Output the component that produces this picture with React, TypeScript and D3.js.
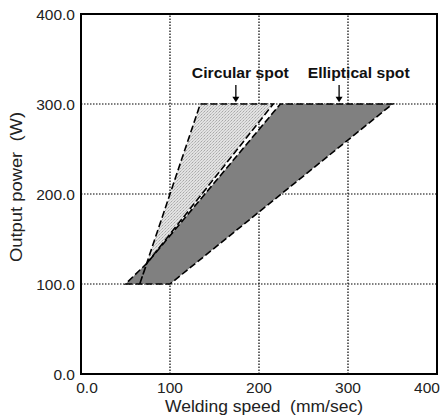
import React from "react";
import * as d3 from "d3";

const xTicks = [0, 100, 200, 300, 400];
const yTicks = [0, 100, 200, 300, 400];
const xTickLabels = ["0.0", "100", "200", "300", "400"];
const yTickLabels = ["0.0", "100.0", "200.0", "300.0", "400.0"];

// Elliptical spot region (welding speed, output power)
const ellipticalSpeed = [50, 100, 350, 224, 74];
const ellipticalPower = [100, 100, 300, 300, 123];
// Circular spot region
const circularSpeed = [66, 134, 216, 74];
const circularPower = [100, 300, 300, 123];

const annotations = [
  { label: "Circular spot", textX: 179, arrowX: 174, len: 97 },
  { label: "Elliptical spot", textX: 312, arrowX: 290, len: 102 },
];

const W = 441;
const H = 419;

export default function App() {
  const x = d3.scaleLinear().domain([0, 400]).range([81, 437]);
  const y = d3.scaleLinear().domain([0, 400]).range([374, 14]);
  const line = d3
    .line<[number, number]>()
    .x((d) => x(d[0]))
    .y((d) => y(d[1]))
    .curve(d3.curveLinearClosed);
  const ell = ellipticalSpeed.map((s, i) => [s, ellipticalPower[i]] as [number, number]);
  const cir = circularSpeed.map((s, i) => [s, circularPower[i]] as [number, number]);
  const font = "'Liberation Sans', Arial, sans-serif";

  return (
    <svg
      width={W}
      height={H}
      style={{ position: "absolute", left: 0, top: 0, background: "#fff" }}
      fontFamily={font}
    >
      <defs>
        <pattern id="stip" width="3" height="3" patternUnits="userSpaceOnUse">
          <rect width="3" height="3" fill="#e2e2e2" />
          <rect x="0" y="0" width="1" height="1" fill="#a8a8a8" />
          <rect x="2" y="1" width="1" height="1" fill="#bcbcbc" />
          <rect x="1" y="2" width="1" height="1" fill="#c4c4c4" />
        </pattern>
      </defs>
      <rect x={0} y={0} width={W} height={H} fill="#fff" />
      {/* grid */}
      {xTicks.slice(1, -1).map((t) => (
        <line
          key={"gx" + t}
          x1={x(t)}
          x2={x(t)}
          y1={y(0)}
          y2={y(400)}
          stroke="#000"
          strokeWidth={1.2}
          strokeDasharray="1.5,1.5"
        />
      ))}
      {yTicks.slice(1, -1).map((t) => (
        <line
          key={"gy" + t}
          x1={x(0)}
          x2={x(400)}
          y1={y(t)}
          y2={y(t)}
          stroke="#000"
          strokeWidth={1.2}
          strokeDasharray="1.5,1.5"
        />
      ))}
      {/* regions */}
      <path d={line(ell) || ""} fill="#808080" stroke="none" />
      <path d={line(cir) || ""} fill="url(#stip)" stroke="none" />
      <path d={line(ell) || ""} fill="none" stroke="#000" strokeWidth={1.6} strokeDasharray="7,3" />
      <path d={line(cir) || ""} fill="none" stroke="#000" strokeWidth={1.6} strokeDasharray="7,3" />
      {/* frame */}
      <rect
        x={x(0)}
        y={y(400)}
        width={x(400) - x(0)}
        height={y(0) - y(400)}
        fill="none"
        stroke="#000"
        strokeWidth={2}
      />
      {/* y tick labels */}
      {yTicks.map((t, i) => (
        <text key={"yl" + t} x={75} y={y(t) + 5.5} textAnchor="end" fontSize={15.5} fill="#222">
          {yTickLabels[i]}
        </text>
      ))}
      {/* x tick labels */}
      {xTicks.map((t, i) => {
        let px = x(t);
        if (i === 0) px += 6;
        if (i === xTicks.length - 1) px -= 10;
        return (
          <text key={"xl" + t} x={px} y={393} textAnchor="middle" fontSize={15.5} fill="#222">
            {xTickLabels[i]}
          </text>
        );
      })}
      <text
        x={264}
        y={412}
        textAnchor="middle"
        fontSize={16}
        fill="#222"
        textLength={198}
        lengthAdjust="spacingAndGlyphs"
        style={{ whiteSpace: "pre" }}
      >
        {"Welding speed  (mm/sec)"}
      </text>
      <text
        transform={`translate(22,187) rotate(-90)`}
        textAnchor="middle"
        fontSize={16}
        fill="#222"
        textLength={150}
        lengthAdjust="spacingAndGlyphs"
        style={{ whiteSpace: "pre" }}
      >
        {"Output power  (W)"}
      </text>
      {/* annotations */}
      {annotations.map((a) => (
        <g key={a.label}>
          <text
            x={x(a.textX)}
            y={y(329)}
            textAnchor="middle"
            fontSize={15}
            fontWeight="bold"
            fill="#111"
            textLength={a.len}
            lengthAdjust="spacingAndGlyphs"
          >
            {a.label}
          </text>
          <line x1={x(a.arrowX)} x2={x(a.arrowX)} y1={y(321)} y2={y(306)} stroke="#000" strokeWidth={1.3} />
          <path
            d={`M${x(a.arrowX) - 3.5},${y(308)} L${x(a.arrowX) + 3.5},${y(308)} L${x(a.arrowX)},${y(302)} Z`}
            fill="#000"
          />
        </g>
      ))}
    </svg>
  );
}
